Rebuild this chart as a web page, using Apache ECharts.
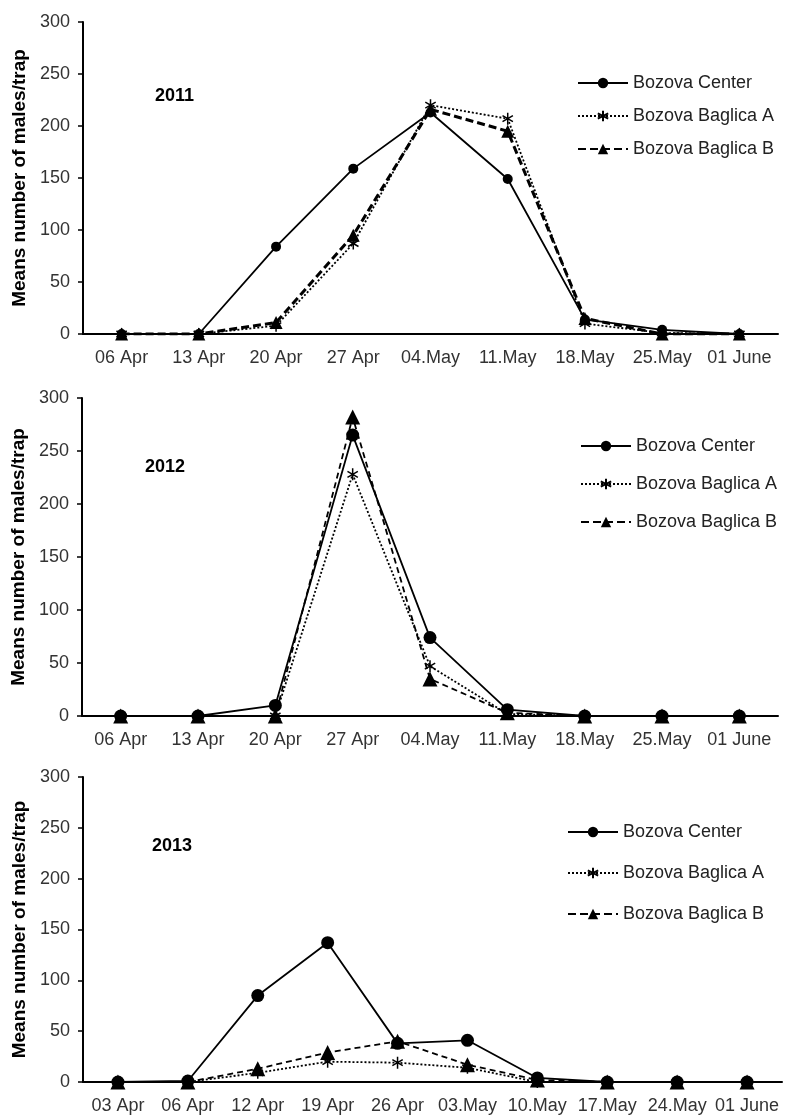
<!DOCTYPE html>
<html>
<head>
<meta charset="utf-8">
<script src="https://cdn.jsdelivr.net/npm/echarts@6/dist/echarts.min.js"></script>
<style>
html,body{margin:0;padding:0;background:#fff;}
#chart{width:785px;height:1115px;}
</style>
</head>
<body>
<div id="chart"></div>
<script>
// ---- data ----
var seriesNames = ['Bozova Center', 'Bozova Baglica A', 'Bozova Baglica B'];
var yearLabels = ['2011', '2012', '2013'];
var yTicks = [0, 50, 100, 150, 200, 250, 300];
var yAxisTitle = 'Means number of males/trap';

var cats2011 = ['06 Apr', '13 Apr', '20 Apr', '27 Apr', '04.May', '11.May', '18.May', '25.May', '01 June'];
var center2011 = [0, 0, 84, 159, 213, 149, 14, 4, 0];
var baglicaA2011 = [0, 0, 8, 87, 220, 207, 10, 1, 0];
var baglicaB2011 = [0, 0, 11, 95, 216, 195, 15, 0, 0];

var cats2012 = ['06 Apr', '13 Apr', '20 Apr', '27 Apr', '04.May', '11.May', '18.May', '25.May', '01 June'];
var center2012 = [0, 0, 10, 265, 74, 6, 0, 0, 0];
var baglicaA2012 = [0, 0, 0, 228, 47, 2, 0, 0, 0];
var baglicaB2012 = [0, 0, 0, 282, 35, 3, 0, 0, 0];

var cats2013 = ['03 Apr', '06 Apr', '12 Apr', '19 Apr', '26 Apr', '03.May', '10.May', '17.May', '24.May', '01 June'];
var center2013 = [0, 1, 85, 137, 38, 41, 4, 0, 0, 0];
var baglicaA2013 = [0, 0, 9, 20, 19, 14, 0, 0, 0, 0];
var baglicaB2013 = [0, 0, 13, 29, 40, 17, 2, 0, 0, 0];

// ---- layout/styles ----
var FONT = '"Liberation Sans", Arial, sans-serif';
var STAR = 'path://M0,-10L0,10M-8.66,-5L8.66,5M-8.66,5L8.66,-5';

var panels = [
  {cats: cats2011, data: [center2011, baglicaA2011, baglicaB2011],
   grid: {left: 83, right: 7, top: 22, height: 312},
   legend: {left: 577, top: 74, itemGap: 15},
   year: {left: 155, top: 87},
   sizes: [10, 12, 13], widths: [1.8, 1.8, 3], dashB: [8, 4]},
  {cats: cats2012, data: [center2012, baglicaA2012, baglicaB2012],
   grid: {left: 82, right: 7, top: 398, height: 318},
   legend: {left: 580, top: 437, itemGap: 20},
   year: {left: 145, top: 458},
   sizes: [13, 12, 15], widths: [1.8, 1.8, 1.8], dashB: [6, 4]},
  {cats: cats2013, data: [center2013, baglicaA2013, baglicaB2013],
   grid: {left: 83, right: 3, top: 777, height: 305},
   legend: {left: 567, top: 823, itemGap: 23},
   year: {left: 152, top: 837},
   sizes: [13, 12, 15], widths: [1.8, 1.8, 1.8], dashB: [6, 4]}
];

var grids = [], xAxes = [], yAxes = [], series = [], legends = [], titles = [];
panels.forEach(function (p, i) {
  grids.push(p.grid);
  xAxes.push({
    type: 'category', gridIndex: i, data: p.cats, boundaryGap: true,
    axisLine: {lineStyle: {color: '#000', width: 2}},
    axisTick: {alignWithLabel: true, length: 5, lineStyle: {color: '#000', width: 1.5}},
    axisLabel: {interval: 0, margin: 15, fontSize: 18, color: '#333', fontFamily: FONT},
    splitLine: {show: false}
  });
  yAxes.push({
    type: 'value', gridIndex: i, min: yTicks[0], max: yTicks[yTicks.length - 1], interval: 50,
    name: yAxisTitle, nameLocation: 'middle', nameGap: 45,
    nameTextStyle: {fontSize: 19, fontWeight: 'bold', color: '#000', fontFamily: FONT},
    axisLine: {show: true, lineStyle: {color: '#000', width: 2}},
    axisTick: {show: true, length: 5, lineStyle: {color: '#000', width: 1.5}},
    axisLabel: {margin: 13, fontSize: 18, color: '#333', fontFamily: FONT},
    splitLine: {show: false}
  });
  var styles = [
    {symbol: 'circle', type: 'solid'},
    {symbol: STAR, type: [2, 2]},
    {symbol: 'triangle', type: p.dashB}
  ];
  styles.forEach(function (s, k) {
    series.push({
      type: 'line', name: seriesNames[k], xAxisIndex: i, yAxisIndex: i,
      data: p.data[k], symbol: s.symbol, symbolSize: p.sizes[k], showSymbol: true,
      symbolKeepAspect: true, animation: false,
      lineStyle: {color: '#000', width: p.widths[k], type: s.type},
      itemStyle: {color: '#000', borderColor: '#000', borderWidth: k === 1 ? 1.5 : 0}
    });
  });
  legends.push({
    orient: 'vertical', left: p.legend.left, top: p.legend.top, itemGap: p.legend.itemGap,
    itemWidth: 50, itemHeight: 13, padding: 0,
    textStyle: {fontSize: 18, color: '#222', fontFamily: FONT},
    data: seriesNames.slice(), selectedMode: false
  });
  titles.push({
    text: yearLabels[i], left: p.year.left, top: p.year.top, padding: 0,
    textStyle: {fontSize: 18, fontWeight: 'bold', color: '#000', fontFamily: FONT}
  });
});

var chart = echarts.init(document.getElementById('chart'), null, {renderer: 'canvas'});
chart.setOption({
  backgroundColor: '#fff',
  animation: false,
  title: titles,
  legend: legends,
  grid: grids,
  xAxis: xAxes,
  yAxis: yAxes,
  series: series
});
</script>
</body>
</html>
